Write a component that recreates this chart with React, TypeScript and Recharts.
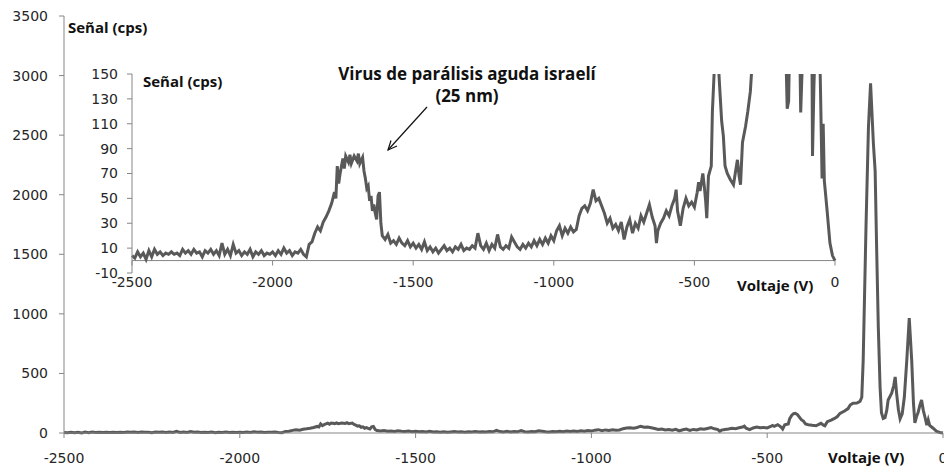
import { LineChart, Line, XAxis, YAxis, ReferenceLine } from 'recharts'

// [voltaje (V), señal (cps)]
const baseline: [number, number][] = [
  [-2500, 4], [-2490, 2], [-2480, 7], [-2470, 3], [-2460, 6], [-2450, 1], [-2440, 8], [-2430, 3], [-2420, 9], [-2410, 5],
  [-2400, 7], [-2390, 4], [-2380, 6], [-2370, 5], [-2360, 7], [-2350, 5], [-2340, 6], [-2330, 4], [-2320, 9], [-2310, 6],
  [-2300, 8], [-2290, 5], [-2280, 9], [-2270, 6], [-2260, 7], [-2250, 3], [-2240, 8], [-2230, 6], [-2220, 9], [-2210, 5],
  [-2200, 8], [-2190, 4], [-2180, 14], [-2170, 5], [-2160, 9], [-2150, 4], [-2140, 13], [-2130, 6], [-2120, 8], [-2110, 4],
  [-2100, 7], [-2090, 5], [-2080, 9], [-2070, 3], [-2060, 7], [-2050, 5], [-2040, 8], [-2030, 4], [-2020, 6], [-2010, 5],
  [-2000, 7], [-1990, 4], [-1980, 8], [-1970, 5], [-1960, 10], [-1950, 6], [-1940, 8], [-1930, 4], [-1920, 7], [-1910, 6],
  [-1900, 9], [-1890, 5], [-1880, 3], [-1870, 13],
]

const virusPeak: [number, number][] = [
  [-1860, 15], [-1850, 22], [-1840, 27], [-1830, 24], [-1820, 31], [-1810, 35], [-1800, 40], [-1790, 46], [-1780, 55],
  [-1775, 50], [-1770, 76], [-1765, 62], [-1760, 70], [-1750, 82], [-1745, 74], [-1740, 84], [-1730, 79], [-1725, 85],
  [-1720, 78], [-1710, 84], [-1700, 80], [-1695, 86], [-1690, 78], [-1680, 83], [-1675, 72], [-1670, 66], [-1665, 58],
  [-1660, 60], [-1655, 48], [-1650, 52], [-1645, 40], [-1640, 45], [-1635, 38], [-1630, 33], [-1625, 52], [-1620, 55],
  [-1615, 30], [-1610, 20], [-1600, 17], [-1590, 21], [-1580, 14], [-1570, 16], [-1560, 13], [-1550, 18], [-1540, 14],
  [-1530, 12], [-1520, 16], [-1510, 11], [-1500, 14], [-1490, 10], [-1480, 13], [-1470, 9], [-1460, 15], [-1450, 8],
  [-1440, 11], [-1430, 7], [-1420, 10], [-1410, 6], [-1400, 9],
]

const middle: [number, number][] = [
  [-1390, 12], [-1380, 8], [-1370, 10], [-1360, 7], [-1350, 11], [-1340, 9], [-1330, 13], [-1320, 8], [-1310, 10],
  [-1300, 9], [-1290, 12], [-1280, 10], [-1270, 22], [-1260, 12], [-1250, 9], [-1240, 14], [-1230, 8], [-1220, 13],
  [-1210, 10], [-1200, 21], [-1190, 11], [-1180, 9], [-1170, 12], [-1160, 10], [-1150, 19], [-1140, 15], [-1130, 11],
  [-1120, 9], [-1110, 13], [-1100, 10], [-1090, 14], [-1080, 11], [-1070, 16], [-1060, 12], [-1050, 17], [-1040, 13],
  [-1030, 18], [-1020, 14], [-1010, 20], [-1000, 16], [-990, 24], [-980, 28], [-970, 20], [-960, 26], [-950, 22],
  [-940, 27], [-930, 23], [-920, 25], [-910, 36], [-900, 42], [-890, 44], [-880, 40], [-870, 46], [-860, 57],
  [-850, 48], [-840, 50], [-830, 44], [-820, 38], [-810, 30], [-800, 34], [-790, 26], [-780, 29], [-770, 24],
  [-760, 31], [-750, 17], [-740, 27], [-730, 33], [-720, 22], [-710, 30], [-700, 26], [-690, 36], [-680, 31],
  [-670, 38], [-660, 45], [-650, 35], [-640, 28], [-635, 14], [-630, 24], [-620, 30], [-610, 34], [-600, 40],
  [-590, 36], [-580, 44], [-570, 50], [-565, 57], [-560, 40], [-550, 28], [-540, 42], [-530, 50], [-520, 44],
  [-510, 47], [-500, 43], [-490, 55], [-485, 63], [-480, 56], [-470, 70], [-465, 60], [-460, 48], [-456, 34],
  [-450, 68], [-440, 76],
]

const cellPeaks: [number, number][] = [
  [-436, 120], [-430, 150], [-425, 162], [-420, 165], [-414, 155], [-409, 135], [-403, 112], [-397, 100], [-391, 76],
  [-383, 70], [-372, 65], [-361, 61], [-352, 74], [-347, 81], [-341, 68], [-336, 61], [-329, 95], [-318, 108],
  [-310, 120], [-301, 136], [-293, 165], [-280, 185], [-270, 205], [-264, 235], [-256, 250], [-245, 252], [-236, 265],
  [-231, 300], [-227, 610], [-219, 1730], [-212, 2570], [-206, 2935], [-198, 2430], [-193, 2200], [-189, 1590],
  [-184, 890], [-179, 386], [-175, 170], [-170, 122], [-165, 128], [-160, 190], [-156, 277], [-146, 335], [-140, 400],
  [-136, 470], [-132, 335], [-127, 200], [-122, 119], [-116, 160], [-110, 300], [-103, 610], [-96, 965], [-89, 610],
  [-84, 250], [-80, 84], [-75, 140], [-71, 170], [-66, 230], [-61, 277], [-56, 190], [-51, 130], [-46, 66],
  [-42, 110], [-38, 64], [-35, 57], [-28, 40], [-18, 14], [-9, 4], [0, 0],
]

const xTicks = [-2500, -2000, -1500, -1000, -500, 0]
const mainYTicks = [0, 500, 1000, 1500, 2000, 2500, 3000, 3500]
const insetYTicks = [-10, 10, 30, 50, 70, 90, 110, 130, 150]

const data = [...baseline, ...virusPeak, ...middle, ...cellPeaks].map(([v, s]) => ({ v, s }))

const AXIS = '#868686'
const LINE = '#595959'
const tickStyle = { fill: '#262626', fontSize: 14, fontFamily: 'DejaVu Sans' }
const boldText = { fontFamily: 'Open Sans', fontWeight: 700, fill: '#111' }

export default function App() {
  return (
    <div style={{ position: 'absolute', left: 0, top: 0, width: 944, height: 468, background: '#fff' }}>
      <div style={{ position: 'absolute', left: 0, top: 0 }}>
        <LineChart width={944} height={468} data={data} margin={{ top: 16, right: 1, bottom: 5, left: 0 }}>
          <XAxis dataKey="v" type="number" domain={[-2500, 0]} ticks={xTicks} interval={0} height={30}
            stroke={AXIS} tickSize={5} tickMargin={15} tick={tickStyle} />
          <YAxis type="number" domain={[0, 3500]} ticks={mainYTicks} interval={0} width={64}
            stroke={AXIS} tickSize={5} tickMargin={11} tick={tickStyle} />
          <Line type="linear" dataKey="s" stroke={LINE} strokeWidth={3} dot={false} isAnimationActive={false} />
          <text x={68} y={33} fontSize={15} style={boldText}>Señal (cps)</text>
          <text x={828} y={463} fontSize={15} style={boldText}>Voltaje (V)</text>
        </LineChart>
      </div>
      <div style={{ position: 'absolute', left: 0, top: 0 }}>
        <LineChart width={944} height={468} data={data} margin={{ top: 74, right: 109, bottom: 165, left: 0 }}>
          <XAxis dataKey="v" type="number" domain={[-2500, 0]} ticks={xTicks} interval={0} height={30}
            axisLine={false} tickLine={false} tickSize={0} tickMargin={4} tick={tickStyle} />
          <YAxis type="number" domain={[-10, 150]} ticks={insetYTicks} interval={0} width={132} allowDataOverflow
            stroke={AXIS} tickSize={5} tickMargin={9} tick={tickStyle} />
          <ReferenceLine y={0} stroke={AXIS} />
          {xTicks.map(t => (
            <ReferenceLine key={t} segment={[{ x: t, y: 0 }, { x: t, y: -4 }]} stroke={AXIS} />
          ))}
          <Line type="linear" dataKey="s" stroke={LINE} strokeWidth={3} dot={false} isAnimationActive={false} />
          <text x={143} y={87} fontSize={15} style={boldText}>Señal (cps)</text>
          <text x={737} y={291} fontSize={15} style={boldText}>Voltaje (V)</text>
          <text x={467} y={80} fontSize={17} textAnchor="middle" style={boldText}>Virus de parálisis aguda israelí</text>
          <text x={467} y={102} fontSize={17} textAnchor="middle" style={boldText}>(25 nm)</text>
          <line x1={427} y1={107} x2={388} y2={150} stroke="#111" strokeWidth={1.2} />
          <polyline points="397,146 388,150 391,140.5" fill="none" stroke="#111" strokeWidth={1.2} />
        </LineChart>
      </div>
    </div>
  )
}
